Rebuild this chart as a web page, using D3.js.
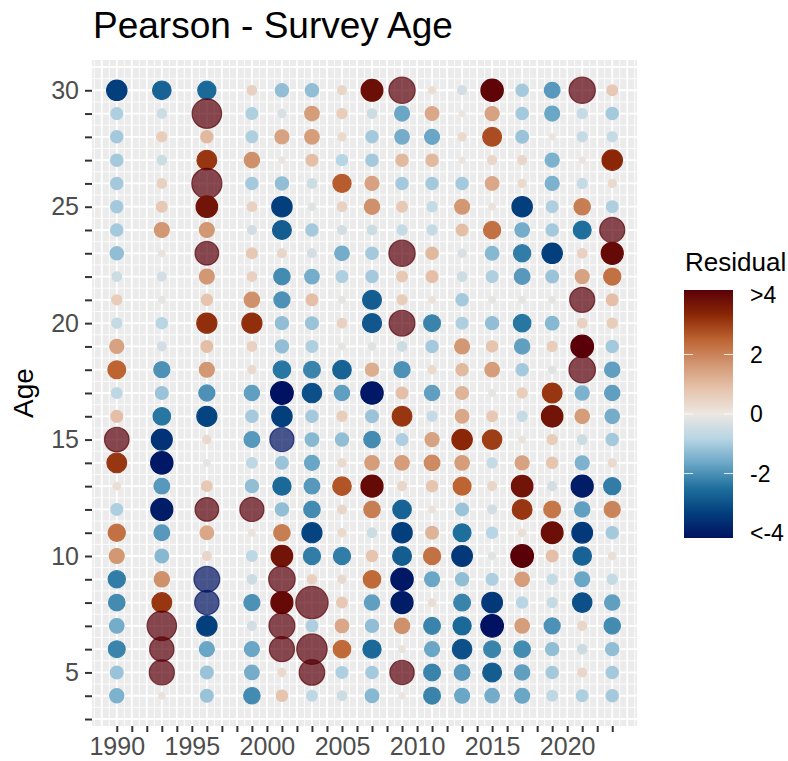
<!DOCTYPE html>
<html>
<head>
<meta charset="utf-8">
<script src="https://cdn.jsdelivr.net/npm/d3@7"></script>
<style>
  body { margin: 0; background: #fff; }
  text { font-family: "Liberation Sans", Arial, sans-serif; }
</style>
</head>
<body>
<div id="chart"></div>
<script>
// Survey years (columns) and ages (rows, top to bottom)
var years = [1990, 1993, 1996, 1999, 2001, 2003, 2005, 2007, 2009, 2011, 2013, 2015, 2017, 2019, 2021, 2023];
var ages = d3.range(30, 3, -1); // 30 ... 4

// Pearson residuals per year, ordered age 30 -> 4
var res1990 = [-3.2, -0.9, -1.0, -1.0, -1.0, -1.0, -1.0, -1.2, -0.5, 0.6, -0.6, 1.4, 2.4, -0.7, 0.9, 4.8, 3.0, 0.2, -0.9, 2.2, 1.6, -2.2, -2.0, -1.5, -2.1, -1.1, -1.4];
var res1993 = [-2.6, -0.5, 0.6, -0.5, 0.5, 0.7, 1.6, 0.1, -0.4, -0.1, -0.8, -0.4, -1.9, -1.1, -2.3, -3.4, -3.9, -1.8, -3.8, -1.8, -1.3, 1.7, 3.0, 7.0, 4.7, 5.0, 0.1];
var res1996 = [-2.5, 7.0, 1.0, 3.0, 7.3, 3.6, 1.6, 4.4, 1.6, 0.8, 3.1, 0.9, 1.6, -1.9, -3.1, 0.3, -0.1, 0.7, 4.4, 1.3, 0.4, -5.3, -4.7, -3.2, -1.6, -1.1, -1.1];
var res1999 = [0.5, -0.9, -0.9, 1.7, -1.0, 0.5, -0.4, 0.7, 0.5, 1.7, 3.1, 0.5, 0.3, -1.7, -1.0, -1.8, -0.7, -1.2, 4.6, 0.1, -0.7, -0.5, -1.9, -0.4, -1.6, -1.5, -2.0];
var res2001 = [-1.2, -0.3, 1.4, 0.05, -1.2, -3.2, -2.7, 0.4, -2.0, -1.9, -1.2, -1.2, -2.3, -4.0, -3.2, -4.6, -1.1, -2.5, -1.2, 2.0, 3.6, 5.6, 3.8, 5.4, 5.0, 0.3, 0.8];
var res2003 = [-1.2, 1.5, 1.5, 0.9, -0.5, -0.2, -1.0, -0.4, -1.5, 0.9, -1.1, -0.9, -2.1, -2.9, -1.0, -1.3, -1.6, -1.8, -2.0, -3.1, -2.2, 0.5, 8.5, -0.9, 7.5, 5.2, -0.7];
var res2005 = [0.4, 0.6, 0.3, -0.8, 2.5, 0.5, -0.4, -1.5, -0.9, -0.1, 0.5, -0.1, -2.6, -1.7, 0.6, -1.2, 0.3, 2.6, 0.4, 0.3, -2.2, 0.3, 0.7, 1.3, 2.3, -0.9, -0.5];
var res2007 = [3.7, -0.5, -1.0, -1.0, 1.4, 1.7, -0.5, -1.0, -1.0, -2.7, -2.8, -0.2, 1.2, -3.9, -1.1, -2.0, 1.5, 3.8, 2.0, -0.5, 0.8, 2.3, -1.7, -1.2, -2.5, -1.0, -1.3];
var res2009 = [5.5, -1.6, -1.5, 1.0, -1.0, 0.7, -0.6, 5.5, 0.7, 0.6, 5.3, -0.5, -1.9, 0.9, 3.0, -0.9, 1.5, 0.4, -2.6, -3.2, -2.7, -3.9, -3.8, 1.7, 0.1, 4.7, 0.05];
var res2011 = [0.2, 1.3, -1.6, 1.0, -1.0, -0.6, -0.6, 1.0, 0.9, 0.1, -2.1, -1.0, 0.3, -1.7, -0.6, 1.4, 1.8, 0.8, 0.1, 1.1, 2.2, -1.6, 0.2, -2.1, -1.6, -2.1, -2.1];
var res2013 = [-0.4, 0.05, 0.3, 0.05, -1.0, 1.6, 0.9, -0.3, -0.5, -1.0, -0.9, 1.6, 1.0, 1.1, 1.3, 3.2, 1.5, 2.4, -1.1, -2.4, -3.3, -1.2, -2.1, -2.5, -2.9, -1.8, -1.6];
var res2015 = [3.9, 1.4, 2.7, 0.4, 1.3, 0.1, 2.2, -1.3, -0.9, -0.1, -1.2, 0.8, 1.5, -0.1, 0.7, 2.9, -0.6, 0.4, -0.4, -0.8, -0.2, -0.9, -3.3, -4.0, -2.1, -2.7, -1.5];
var res2017 = [-1.0, -1.0, -1.1, 0.4, 0.3, -3.2, -1.5, -2.2, -1.8, -0.1, -2.3, -1.7, -1.0, 0.6, -0.6, 0.1, 1.4, 3.6, 3.0, 0.2, 4.0, 1.5, -0.8, 1.5, -2.0, -1.7, -1.6];
var res2019 = [-1.8, -1.6, 0.05, -1.4, -1.4, -0.9, -1.0, -3.2, -1.1, -0.1, -1.3, 0.6, -0.2, 3.0, 3.6, 0.6, 0.8, -0.4, 2.1, 3.7, 0.9, -0.6, -0.6, -1.9, -1.2, -1.0, -0.7];
var res2021 = [5.5, -0.6, -0.6, 0.05, -0.6, 2.0, -2.4, 0.5, 1.4, 5.0, 0.5, 4.0, 5.6, -1.4, 1.5, -0.5, -1.4, -3.8, -1.7, -3.3, -2.6, -1.6, -2.9, 0.4, -0.5, 0.4, -0.9];
var res2023 = [0.7, -1.0, -0.6, 3.2, 0.3, -0.9, 5.0, 3.8, 2.2, 0.9, 0.6, -1.0, -1.7, -1.7, -1.5, -1.0, 0.3, -2.2, 1.9, -1.0, 0.2, -0.6, -1.7, -2.0, -1.2, -1.0, -1.0];

var residuals = [res1990, res1993, res1996, res1999, res2001, res2003, res2005, res2007,
                 res2009, res2011, res2013, res2015, res2017, res2019, res2021, res2023];

// legend breaks
var legendBreaks = [4, 2, 0, -2, -4];
var legendLabels = [">4", "2", "0", "-2", "<-4"];

// diverging palette (vik-like), from -4 to 4
var palette = ["#001261", "#033e7d", "#1e6f9d", "#6aa6c6", "#b7d5e4", "#ece7e2",
               "#e6c4ad", "#d29773", "#bd6432", "#8b2706", "#590008"];

var svgWidth = 788;
var svgHeight = 761;

var panel = { left: 92, right: 637, top: 60, bottom: 726 };

var svg = d3.select("#chart")
  .append("svg")
  .attr("width", svgWidth)
  .attr("height", svgHeight);

// flatten data
var points = [];
years.forEach(function(yr, i) {
  ages.forEach(function(age, j) {
    points.push({ year: yr, age: age, res: residuals[i][j] });
  });
});

// scales (ggplot-style 5% expansion)
var xPad = (2023 - 1990) * 0.05;
var yPad = (30 - 4) * 0.05;
var xScale = d3.scaleLinear()
  .domain([1990 - xPad, 2023 + xPad])
  .range([panel.left, panel.right]);
var yScale = d3.scaleLinear()
  .domain([4 - yPad, 30 + yPad])
  .range([panel.bottom, panel.top]);

var colorScale = d3.scaleLinear()
  .domain(d3.range(palette.length).map(function(i) { return -4 + 8 * i / (palette.length - 1); }))
  .range(palette)
  .interpolate(d3.interpolateRgb)
  .clamp(true);

var rScale = d3.scaleRadial()
  .domain([0, 8.5])
  .range([2.8, 16.2]);

// panel background + grid
svg.append("rect")
  .attr("x", panel.left).attr("y", panel.top)
  .attr("width", panel.right - panel.left)
  .attr("height", panel.bottom - panel.top)
  .attr("fill", "#ebebeb");

var grid = svg.append("g");
var xMin = xScale.domain()[0], xMax = xScale.domain()[1];
var yMin = yScale.domain()[0], yMax = yScale.domain()[1];

d3.range(Math.ceil(xMin * 2) / 2, xMax, 0.5).forEach(function(v) {
  grid.append("line")
    .attr("x1", xScale(v)).attr("x2", xScale(v))
    .attr("y1", panel.top).attr("y2", panel.bottom)
    .attr("stroke", "#fff")
    .attr("stroke-width", v % 1 === 0 ? 1.8 : 0.9);
});
d3.range(Math.ceil(yMin * 2) / 2, yMax, 0.5).forEach(function(v) {
  grid.append("line")
    .attr("y1", yScale(v)).attr("y2", yScale(v))
    .attr("x1", panel.left).attr("x2", panel.right)
    .attr("stroke", "#fff")
    .attr("stroke-width", v % 1 === 0 ? 1.8 : 0.9);
});

// axes
var bottomAxis = d3.axisBottom(xScale)
  .tickValues(d3.range(1990, 2024))
  .tickSize(6)
  .tickPadding(5)
  .tickFormat(function(d) { return d % 5 === 0 ? d : ""; });
var leftAxis = d3.axisLeft(yScale)
  .tickValues(d3.range(3, 31))
  .tickSize(7)
  .tickPadding(6)
  .tickFormat(function(d) { return d % 5 === 0 ? d : ""; });

var xAxisG = svg.append("g")
  .attr("transform", `translate(0, ${panel.bottom})`)
  .call(bottomAxis);
var yAxisG = svg.append("g")
  .attr("transform", `translate(${panel.left}, 0)`)
  .call(leftAxis);

[xAxisG, yAxisG].forEach(function(g) {
  g.select(".domain").remove();
  g.selectAll(".tick line").attr("stroke", "#333333").attr("stroke-width", 2);
  g.selectAll(".tick text")
    .attr("fill", "#4d4d4d")
    .style("font-size", "25px")
    .style("font-family", "'Liberation Sans', Arial, sans-serif");
});

// points
svg.append("g")
  .selectAll("circle")
  .data(points)
  .enter()
  .append("circle")
  .attr("cx", d => xScale(d.year))
  .attr("cy", d => yScale(d.age))
  .attr("r", d => rScale(Math.min(Math.abs(d.res), 8.5)))
  .attr("fill", d => colorScale(d.res))
  .attr("stroke", d => colorScale(d.res))
  .attr("stroke-width", 1.2)
  .attr("fill-opacity", d => Math.abs(d.res) > 4 ? 0.7 : 1)
  .attr("stroke-opacity", d => Math.abs(d.res) > 4 ? 0.7 : 1);

// title and axis label
svg.append("text")
  .attr("x", 93)
  .attr("y", 38)
  .attr("fill", "#000")
  .style("font-size", "37px")
  .text("Pearson - Survey Age");

svg.append("text")
  .attr("transform", `translate(33, ${(panel.top + panel.bottom) / 2}) rotate(-90)`)
  .attr("text-anchor", "middle")
  .attr("fill", "#000")
  .style("font-size", "28px")
  .text("Age");

// colour legend
var legScale = d3.scaleLinear().domain([-4, 4]).range([533, 295]);
var legX = 684, legW = 49, legTop = 290, legBottom = 538;

var grad = svg.append("defs").append("linearGradient")
  .attr("id", "resGrad")
  .attr("x1", 0).attr("x2", 0).attr("y1", 1).attr("y2", 0);
palette.forEach(function(c, i) {
  grad.append("stop")
    .attr("offset", (i / (palette.length - 1)) * 100 + "%")
    .attr("stop-color", c);
});

svg.append("text")
  .attr("x", legX + 1)
  .attr("y", 271)
  .attr("fill", "#000")
  .style("font-size", "26px")
  .text("Residual");

svg.append("rect")
  .attr("x", legX).attr("y", legTop)
  .attr("width", legW).attr("height", legBottom - legTop)
  .attr("fill", "url(#resGrad)");

var legend = svg.append("g");
legendBreaks.forEach(function(b, i) {
  if (Math.abs(b) < 4) {
    legend.append("line")
      .attr("x1", legX).attr("x2", legX + 9)
      .attr("y1", legScale(b)).attr("y2", legScale(b))
      .attr("stroke", "#fff").attr("stroke-opacity", 0.8).attr("stroke-width", 1);
    legend.append("line")
      .attr("x1", legX + legW - 9).attr("x2", legX + legW)
      .attr("y1", legScale(b)).attr("y2", legScale(b))
      .attr("stroke", "#fff").attr("stroke-opacity", 0.8).attr("stroke-width", 1);
  }
  legend.append("text")
    .attr("x", 750)
    .attr("y", legScale(b))
    .attr("dy", "0.35em")
    .attr("fill", "#000")
    .style("font-size", "23px")
    .text(legendLabels[i]);
});
</script>
</body>
</html>
